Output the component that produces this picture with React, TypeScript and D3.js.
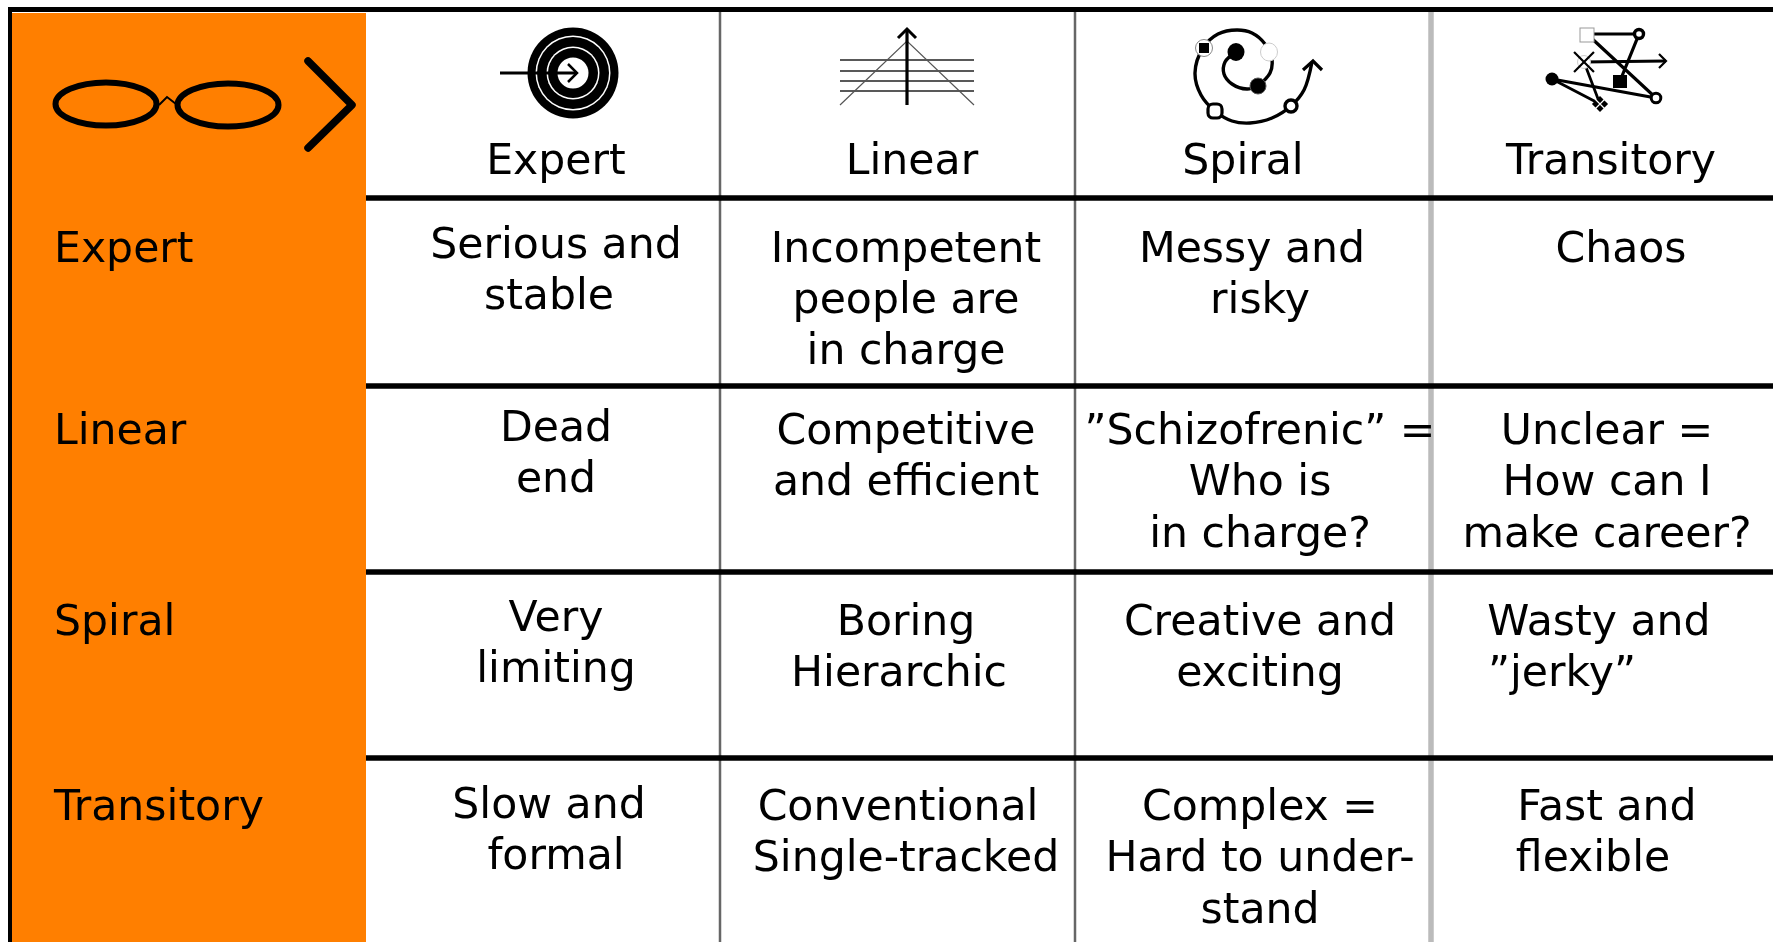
import * as d3 from "d3";

const columns = ["Expert", "Linear", "Spiral", "Transitory"];
const rows = ["Expert", "Linear", "Spiral", "Transitory"];

// cell text, one array per row, one entry per column, broken as in the picture
const expertRow = [["Serious and", "stable"], ["Incompetent", "people are", "in charge"], ["Messy and", "risky"], ["Chaos"]];
const linearRow = [["Dead", "end"], ["Competitive", "and efficient"], ["”Schizofrenic” =", "Who is", "in charge?"], ["Unclear =", "How can I", "make career?"]];
const spiralRow = [["Very", "limiting"], ["Boring", "Hierarchic"], ["Creative and", "exciting"], ["Wasty and", "”jerky”"]];
const transitoryRow = [["Slow and", "formal"], ["Conventional", "Single-tracked"], ["Complex =", "Hard to under-", "stand"], ["Fast and", "flexible"]];
const cellRows = [expertRow, linearRow, spiralRow, transitoryRow];

// layout, kept apart from the text
const W = 1773;
const H = 942;
const colCenter = d3.scaleOrdinal<string, number>().domain(columns).range([556, 906, 1260, 1607]);
const headCenter = d3.scaleOrdinal<string, number>().domain(columns).range([556, 912, 1243, 1611]);
const rowBase = d3.scaleOrdinal<string, number>().domain(rows).range([261.5, 444, 635, 820]);
const lineStep = 51.3;
const rowLines = [198, 386, 572, 758];
const colLines = [
  { x: 720, color: "#666", width: 2.5 },
  { x: 1075, color: "#666", width: 2.5 },
  { x: 1431, color: "#bbb", width: 5.5 },
];
// the text in the source was nudged by hand
const nudgeX = [
  [[0, -7], [0, 0, 0], [-8, 0], [14]],
  [[0, 0], [0, 0], [0, 0, 0], [0, 0, 0]],
  [[0, 0], [0, -7], [0, 0], [-8, -45]],
  [[-7, 0], [-8, 0], [0, 0, 0], [0, -14]],
];
const nudgeY = [
  [-3.5, 0, 0, 0],
  [-3, 0, 0, 0],
  [-4, 0, 0, 0],
  [-2, 0, 0, 0],
];

const font = "'DejaVu Sans', Verdana, sans-serif";
const fontSize = 42.6;

const curve = d3.line().curve(d3.curveCatmullRom.alpha(0.5));
const straight = d3.line();
const sym = (type: d3.SymbolType, size: number) => d3.symbol().type(type).size(size)() as string;

function Glasses() {
  return (
    <g fill="none" stroke="#000">
      <ellipse cx={106} cy={104} rx={50.5} ry={21.5} strokeWidth={6} />
      <ellipse cx={228} cy={105} rx={50.5} ry={21.5} strokeWidth={6} />
      <path d={straight([[159, 105], [167, 97], [176, 104]]) as string} strokeWidth={2} />
      <path d={straight([[308, 61], [352, 105], [308, 148]]) as string} strokeWidth={7.5} strokeLinecap="round" strokeLinejoin="round" />
    </g>
  );
}

function TargetIcon() {
  const rings = [
    { r: 45.5, fill: "#000" },
    { r: 37.5, fill: "#fff" },
    { r: 36, fill: "#000" },
    { r: 26.5, fill: "#fff" },
    { r: 25, fill: "#000" },
    { r: 15.5, fill: "#fff" },
  ];
  return (
    <g>
      {rings.map((d) => (
        <circle key={d.r} cx={573} cy={73} r={d.r} fill={d.fill} />
      ))}
      <path d={straight([[500, 73], [577, 73]]) as string} stroke="#000" strokeWidth={3} fill="none" />
      <path d={straight([[568, 64], [577, 73], [568, 82]]) as string} stroke="#000" strokeWidth={2.5} fill="none" />
    </g>
  );
}

function LinearIcon() {
  return (
    <g fill="none">
      {[60, 71, 81, 91].map((y) => (
        <path key={y} d={straight([[840, y], [974, y]]) as string} stroke="#222" strokeWidth={1.5} />
      ))}
      <path d={straight([[840, 105], [907, 41], [974, 105]]) as string} stroke="#555" strokeWidth={1.2} />
      <path d={straight([[907, 105], [907, 30]]) as string} stroke="#000" strokeWidth={3.2} />
      <path d={straight([[898, 38], [907, 29], [916, 38]]) as string} stroke="#000" strokeWidth={3} />
    </g>
  );
}

const spiralInner: [number, number][] = [[1236, 52], [1225, 62], [1224, 74], [1232, 84], [1247, 89], [1258, 86]];
const spiralOuter: [number, number][] = [
  [1258, 86], [1270, 73], [1272, 60], [1265, 44], [1252, 33], [1237, 30], [1218, 34], [1203, 48],
  [1195, 73], [1201, 95], [1215, 111], [1232, 121], [1250, 123], [1272, 118], [1291, 106], [1304, 90], [1312, 62],
];

function SpiralIcon() {
  return (
    <g>
      <path d={curve(spiralInner) as string} fill="none" stroke="#000" strokeWidth={3.4} />
      <path d={curve(spiralOuter) as string} fill="none" stroke="#000" strokeWidth={3.4} />
      <path d={straight([[1303, 70], [1313, 61], [1322, 70]]) as string} fill="none" stroke="#000" strokeWidth={3.2} />
      <circle cx={1204} cy={48} r={8.5} fill="#fff" stroke="#888" strokeWidth={1} />
      <rect x={1199} y={43} width={10} height={10} fill="#000" />
      <ellipse cx={1236} cy={52} rx={8.5} ry={9} fill="#000" />
      <ellipse cx={1269} cy={52} rx={8.5} ry={9} fill="#fff" stroke="#ccc" strokeWidth={1} />
      <circle cx={1258} cy={86} r={8} fill="#000" stroke="#555" strokeWidth={1} />
      <rect x={1208} y={104} width={14} height={14} rx={5} fill="#fff" stroke="#000" strokeWidth={3.2} />
      <circle cx={1291} cy={106} r={6} fill="#fff" stroke="#000" strokeWidth={3.4} />
    </g>
  );
}

const transitoryPath: [number, number][] = [
  [1552, 79], [1656, 98], [1587, 34], [1639, 34], [1620, 81],
];

function TransitoryIcon() {
  return (
    <g>
      <path d={straight(transitoryPath) as string} fill="none" stroke="#000" strokeWidth={3.2} />
      <path d={straight([[1552, 79], [1600, 104], [1584, 62], [1666, 61]]) as string} fill="none" stroke="#000" strokeWidth={2.8} />
      <path d={straight([[1659, 54], [1666, 61], [1659, 68]]) as string} fill="none" stroke="#000" strokeWidth={2.2} />
      <rect x={1580} y={28} width={14} height={14} fill="#fff" stroke="#999" strokeWidth={1} />
      <circle cx={1639} cy={34} r={4.5} fill="#fff" stroke="#000" strokeWidth={3.4} />
      <rect x={1613} y={75} width={14} height={13} fill="#000" />
      <circle cx={1552} cy={79} r={6.5} fill="#000" />
      <circle cx={1584} cy={62} r={6.5} fill="#fff" stroke="#ccc" strokeWidth={1} />
      <path d={sym(d3.symbolTimes, 260)} transform="translate(1584,62)" fill="none" stroke="#000" strokeWidth={2.2} />
      <path d={sym(d3.symbolSquare, 130)} transform="translate(1600,104) rotate(45)" fill="#000" />
      <path d={sym(d3.symbolTimes, 60)} transform="translate(1600,104)" fill="none" stroke="#fff" strokeWidth={1.2} />
      <circle cx={1656} cy={98} r={4.8} fill="#fff" stroke="#000" strokeWidth={3} />
    </g>
  );
}

export default function App() {
  return (
    <svg
      width={W}
      height={H}
      viewBox={`0 0 ${W} ${H}`}
      style={{ position: "absolute", left: 0, top: 0, display: "block", background: "#fff" }}
    >
      <defs>
        <filter id="soft" x="-5%" y="-5%" width="110%" height="110%">
          <feGaussianBlur stdDeviation="0.7" />
        </filter>
        <filter id="softer" x="-5%" y="-5%" width="110%" height="110%">
          <feGaussianBlur stdDeviation="0.45" />
        </filter>
      </defs>

      <g filter="url(#soft)">
        {colLines.map((d) => (
          <line key={d.x} x1={d.x} x2={d.x} y1={10} y2={H} stroke={d.color} strokeWidth={d.width} />
        ))}
        {rowLines.map((y) => (
          <line key={y} x1={366} x2={W} y1={y} y2={y} stroke="#000" strokeWidth={5.5} />
        ))}
        <line x1={8} x2={W} y1={9.5} y2={9.5} stroke="#000" strokeWidth={5} />
      </g>

      <rect x={8} y={8} width={4} height={H - 8} fill="#000" />
      <rect x={12} y={13} width={354} height={H - 13} fill="#ff7f00" />

      <g filter="url(#softer)">
        <Glasses />
        <TargetIcon />
        <LinearIcon />
        <SpiralIcon />
        <TransitoryIcon />
      </g>

      <g fontFamily={font} fontSize={fontSize} fill="#000" filter="url(#softer)">
        {columns.map((c) => (
          <text key={c} x={headCenter(c)} y={174} textAnchor="middle">
            {c}
          </text>
        ))}
        {rows.map((r) => (
          <text key={r} x={54} y={rowBase(r)}>
            {r}
          </text>
        ))}
        {cellRows.map((cells, i) =>
          cells.map((lines, j) =>
            lines.map((line, k) => (
              <text
                key={`${i}-${j}-${k}`}
                x={colCenter(columns[j]) + nudgeX[i][j][k]}
                y={rowBase(rows[i]) + nudgeY[i][j] + k * lineStep}
                textAnchor="middle"
              >
                {line}
              </text>
            )),
          ),
        )}
      </g>
    </svg>
  );
}
